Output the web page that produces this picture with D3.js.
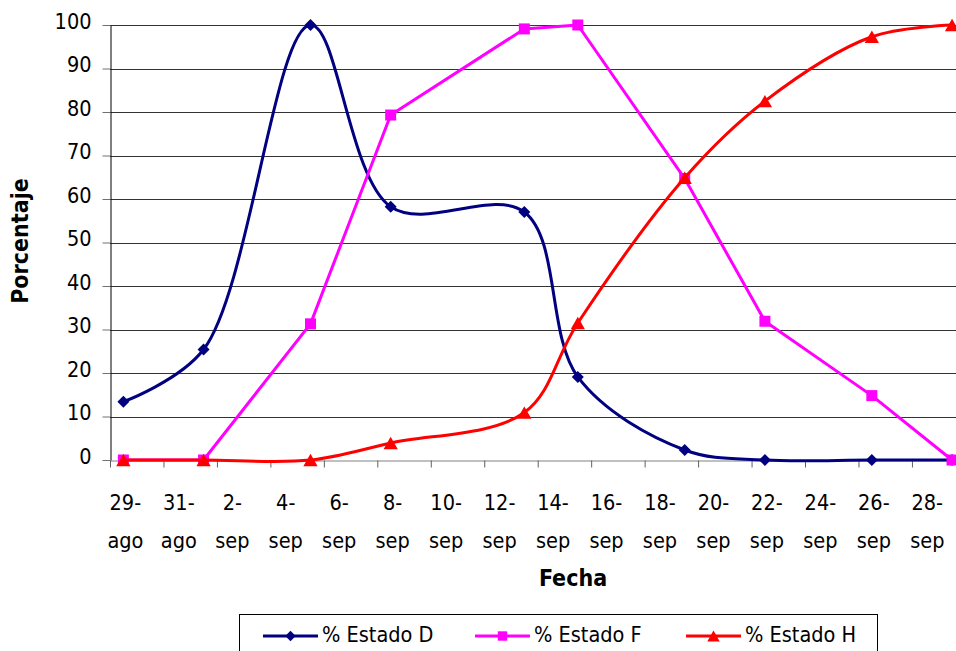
<!DOCTYPE html>
<html>
<head>
<meta charset="utf-8">
<script src="https://cdn.jsdelivr.net/npm/d3@7"></script>
<style>
  body { margin: 0; background: #fff; }
  svg { display: block; }
  text { font-family: "DejaVu Sans Condensed", "DejaVu Sans", sans-serif; font-stretch: condensed; fill: #000; }
</style>
</head>
<body>
<svg id="chart" width="956" height="651"></svg>
<script>
// Sampling dates and the percentage of each state
const fechas  = ["2007-08-29", "2007-09-01", "2007-09-05", "2007-09-08", "2007-09-13",
                 "2007-09-15", "2007-09-19", "2007-09-22", "2007-09-26", "2007-09-29"];
const estadoD = [13.4, 25.4, 100, 58.2, 57.0, 19.1, 2.3, 0, 0, 0];
const estadoF = [0, 0, 31.3, 79.3, 99.1, 100, 64.7, 31.9, 14.8, 0];
const estadoH = [0, 0, 0, 3.9, 10.9, 31.5, 64.9, 82.5, 97.3, 100];

// Axis labels
const etiquetasFecha = ["29-ago", "31-ago", "2-sep", "4-sep", "6-sep", "8-sep", "10-sep", "12-sep",
                        "14-sep", "16-sep", "18-sep", "20-sep", "22-sep", "24-sep", "26-sep", "28-sep"];
const ticksY = [0, 10, 20, 30, 40, 50, 60, 70, 80, 90, 100];
const nombresSerie = ["% Estado D", "% Estado F", "% Estado H"];
const coloresSerie = ["#000080", "#FF00FF", "#FF0000"];

const meses = { ago: 7, sep: 8 };
const parse = d3.utcParse("%Y-%m-%d");
const fechaEtiqueta = s => { const [d, m] = s.split("-"); return new Date(Date.UTC(2007, meses[m], +d)); };

const svg = d3.select("#chart");
const pLeft = 110, pRight = 965.4, pTop = 25, pBottom = 460;

// each day occupies one slot; ticks sit on the slot borders
const x = d3.scaleUtc()
  .domain([new Date(Date.UTC(2007, 7, 28, 12)), new Date(Date.UTC(2007, 8, 29, 12))])
  .range([pLeft, pRight]);
const y = d3.scaleLinear().domain([0, 100]).range([pBottom, pTop]);

// horizontal gridlines
svg.append("g")
  .selectAll("line")
  .data(ticksY.filter(v => v > 0))
  .join("line")
  .attr("x1", pLeft).attr("x2", pRight)
  .attr("y1", d => Math.round(y(d)) + 0.5).attr("y2", d => Math.round(y(d)) + 0.5)
  .attr("stroke", "#333").attr("stroke-width", 1);

// x axis: tick marks on slot borders
const bordes = etiquetasFecha.map(s => d3.utcHour.offset(fechaEtiqueta(s), -12));
bordes.push(x.domain()[1]);
const ax = svg.append("g")
  .attr("transform", `translate(0,${pBottom + 0.5})`)
  .call(d3.axisBottom(x).tickValues(bordes).tickSize(7).tickSizeOuter(0).tickFormat(""));
ax.select(".domain").attr("stroke", "#808080");
ax.selectAll(".tick line").attr("stroke", "#606060");

// two-line date labels centred on their day
const lab = svg.append("g").selectAll("text")
  .data(etiquetasFecha)
  .join("text")
  .attr("text-anchor", "middle")
  .style("font-size", "21.5px");
lab.append("tspan")
  .attr("x", d => x(fechaEtiqueta(d)) + 2).attr("y", 510)
  .text(d => d.split("-")[0] + "-");
lab.append("tspan")
  .attr("x", d => x(fechaEtiqueta(d)) + 2).attr("y", 548)
  .text(d => d.split("-")[1]);

// y axis
const ay = svg.append("g")
  .attr("transform", `translate(${pLeft + 0.5},0)`)
  .call(d3.axisLeft(y).tickValues(ticksY).tickSize(8).tickSizeOuter(0).tickPadding(11));
ay.select(".domain").attr("stroke", "#000");
ay.selectAll(".tick line").attr("stroke", "#707070");
ay.selectAll(".tick text")
  .attr("dy", "0.16em")
  .style("font-size", "21.5px");
ay.attr("font-family", null).attr("font-size", null);
ax.attr("font-family", null).attr("font-size", null);

// axis titles
svg.append("text")
  .attr("x", 573).attr("y", 586)
  .attr("text-anchor", "middle")
  .style("font-size", "23px").style("font-weight", "bold")
  .text("Fecha");
svg.append("text")
  .attr("transform", "translate(27.5,241) rotate(-90)")
  .attr("text-anchor", "middle")
  .style("font-size", "23px").style("font-weight", "bold")
  .text("Porcentaje");

// marker shapes (size = half width)
const diamante = { draw(c, r) { c.moveTo(0, -r); c.lineTo(r, 0); c.lineTo(0, r); c.lineTo(-r, 0); c.closePath(); } };
const cuadrado = { draw(c, r) { c.rect(-r, -r, 2 * r, 2 * r); } };
const triangulo = { draw(c, r) { c.moveTo(0, -r); c.lineTo(r * 1.15, r); c.lineTo(-r * 1.15, r); c.closePath(); } };

const series = [
  { valores: estadoD, curva: d3.curveCatmullRom, simbolo: diamante, r: 6 },
  { valores: estadoF, curva: d3.curveLinear, simbolo: cuadrado, r: 5.5 },
  { valores: estadoH, curva: d3.curveCatmullRom, simbolo: triangulo, r: 6.2 }
];
const fechasD = fechas.map(parse);

series.forEach((s, i) => {
  const pts = fechasD.map((f, j) => [f, s.valores[j]]);
  const linea = d3.line().x(d => x(d[0])).y(d => y(d[1])).curve(s.curva);
  svg.append("path")
    .datum(pts)
    .attr("d", linea)
    .attr("fill", "none")
    .attr("stroke", coloresSerie[i])
    .attr("stroke-width", 3)
    .attr("stroke-linejoin", "round");
  svg.append("g").selectAll("path")
    .data(pts)
    .join("path")
    .attr("transform", d => `translate(${x(d[0])},${y(d[1])})`)
    .attr("d", d3.symbol(s.simbolo, s.r))
    .attr("fill", coloresSerie[i]);
});

// legend
svg.append("rect")
  .attr("x", 239.5).attr("y", 614.5).attr("width", 638).attr("height", 60)
  .attr("fill", "#fff").attr("stroke", "#000").attr("stroke-width", 1);
const legX = [263, 475, 686];
series.forEach((s, i) => {
  const g = svg.append("g").attr("transform", `translate(${legX[i]},636)`);
  g.append("line").attr("x1", 0).attr("x2", 55).attr("y1", 0).attr("y2", 0)
    .attr("stroke", coloresSerie[i]).attr("stroke-width", 3);
  g.append("path").attr("transform", "translate(27.5,0)")
    .attr("d", d3.symbol(s.simbolo, s.r - 0.8)).attr("fill", coloresSerie[i]);
  g.append("text").attr("x", 59).attr("y", 5.5)
    .style("font-size", "21.5px")
    .text(nombresSerie[i]);
});
</script>
</body>
</html>
